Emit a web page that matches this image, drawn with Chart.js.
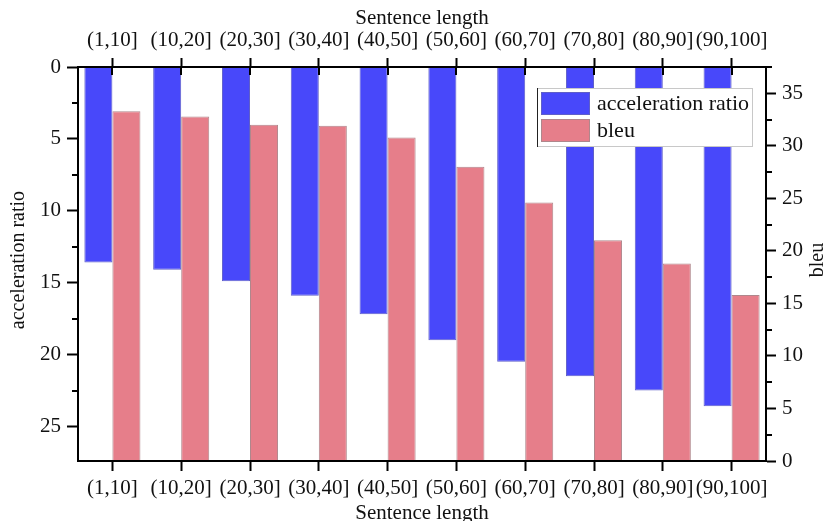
<!DOCTYPE html>
<html lang="en">
<head>
<meta charset="UTF-8">
<title>Acceleration ratio and BLEU by sentence length</title>
<script src="https://cdn.jsdelivr.net/npm/chart.js"></script>
<style>
  html, body { margin: 0; padding: 0; background: #fff; }
  #wrap { width: 831px; height: 521px; position: relative; }
</style>
</head>
<body>
<div id="wrap"><canvas id="chart"></canvas></div>
<script>
// data
const categories = ['(1,10]', '(10,20]', '(20,30]', '(30,40]', '(40,50]', '(50,60]', '(60,70]', '(70,80]', '(80,90]', '(90,100]'];
const accelerationRatio = [13.6, 14.1, 14.9, 15.9, 17.2, 19.0, 20.5, 21.5, 22.5, 23.6];
const bleu = [33.3, 32.8, 32.0, 31.9, 30.8, 28.0, 24.6, 21.0, 18.8, 15.8];
const accTicks = [0, 5, 10, 15, 20, 25];
const bleuTicks = [0, 5, 10, 15, 20, 25, 30, 35];
const accMax = 27.4;
const bleuMax = 37.5;

const SERIF = '"Liberation Serif", "Times New Roman", serif';
const INK = '#111';

function xAxis(position) {
    const top = position === 'top';
    return {
        type: 'category',
        position: position,
        offset: true,
        grid: { offset: false, drawOnChartArea: false, tickLength: top ? 9 : 10, tickWidth: 2, tickColor: '#000' },
        border: { display: true, color: '#000', width: 2, z: 1 },
        ticks: { color: INK, font: { family: SERIF, size: 21 }, padding: 5, autoSkip: false, maxRotation: 0, minRotation: 0 },
        title: {
            display: true,
            text: 'Sentence length',
            color: INK,
            font: { family: SERIF, size: 21, lineHeight: 1 },
            padding: top ? { top: 8, bottom: 0 } : { top: 0, bottom: -3 }
        },
        afterFit: s => { s.height = top ? 67 : 60; }
    };
}

function yAxis(position, max, tickValues, width, tickLength) {
    return {
        position: position,
        reverse: position === 'left',
        min: 0,
        max: max,
        afterBuildTicks: s => { s.ticks = tickValues.map(v => ({ value: v })); },
        grid: { drawOnChartArea: false, tickLength: tickLength, tickWidth: 2, tickColor: '#000' },
        border: { display: true, color: '#000', width: 2, z: 1 },
        ticks: { color: INK, font: { family: SERIF, size: 21 }, padding: 6 },
        afterFit: s => { s.width = width; }
    };
}

// minor ticks, inward top ticks, legend box and the two y titles
const extras = {
    id: 'extras',
    afterDatasetsDraw(chart) {
        const ctx = chart.ctx;
        const a = chart.chartArea;
        ctx.save();
        ctx.strokeStyle = '#000';
        ctx.lineWidth = 2;

        const x2 = chart.scales.x2;
        x2.ticks.forEach((t, i) => {
            const px = Math.round(x2.getPixelForTick(i));
            ctx.beginPath();
            ctx.moveTo(px, a.top);
            ctx.lineTo(px, a.top + 8);
            ctx.stroke();
        });

        const minors = (scale, vals, max, xFrom, xTo) => {
            for (let i = 0; i < vals.length; i++) {
                const step = i + 1 < vals.length ? vals[i + 1] - vals[i] : vals[i] - vals[i - 1];
                const v = vals[i] + step / 2;
                if (v > max) continue;
                const py = Math.round(scale.getPixelForValue(v));
                ctx.beginPath();
                ctx.moveTo(xFrom, py);
                ctx.lineTo(xTo, py);
                ctx.stroke();
            }
        };
        minors(chart.scales.y, accTicks, accMax, a.left - 6, a.left);
        minors(chart.scales.y2, bleuTicks, bleuMax, a.right, a.right + 6);
        ctx.restore();
    },
    afterDraw(chart) {
        const ctx = chart.ctx;
        const a = chart.chartArea;
        ctx.save();

        // legend
        const lw = 215, lh = 58;
        const lx = a.right - 229, ly = a.top + 21;
        ctx.fillStyle = '#fff';
        ctx.fillRect(lx, ly, lw, lh);
        ctx.strokeStyle = '#c8c8c8';
        ctx.lineWidth = 1;
        ctx.strokeRect(lx + 0.5, ly + 0.5, lw, lh);
        ctx.strokeStyle = '#222';
        ctx.beginPath();
        ctx.moveTo(lx + 0.5, ly);
        ctx.lineTo(lx + 0.5, ly + lh + 1);
        ctx.stroke();
        ctx.font = '22px ' + SERIF;
        ctx.textBaseline = 'middle';
        ctx.textAlign = 'left';
        chart.data.datasets.forEach((ds, i) => {
            const sy = ly + 4 + i * 27;
            ctx.fillStyle = ds.backgroundColor;
            ctx.fillRect(lx + 4, sy, 49, 23);
            ctx.strokeStyle = ds.borderColor;
            ctx.strokeRect(lx + 4.5, sy + 0.5, 48, 22);
            ctx.fillStyle = INK;
            ctx.fillText(ds.label, lx + 60, sy + 12);
        });

        // y titles, both reading bottom to top
        const cy = a.top + (a.bottom - a.top) * 0.49;
        ctx.font = '20px ' + SERIF;
        ctx.textAlign = 'center';
        ctx.fillStyle = INK;
        [[18.5, 'acceleration ratio'], [a.right + 52, 'bleu']].forEach(([x, text]) => {
            ctx.save();
            ctx.translate(x, cy);
            ctx.rotate(-Math.PI / 2);
            ctx.fillText(text, 0, 0);
            ctx.restore();
        });
        ctx.restore();
    }
};

new Chart(document.getElementById('chart'), {
    type: 'bar',
    data: {
        labels: categories,
        datasets: [
            {
                label: 'acceleration ratio',
                data: accelerationRatio,
                xAxisID: 'x',
                yAxisID: 'y',
                backgroundColor: 'rgb(72, 72, 250)',
                borderColor: 'rgb(95, 95, 200)',
                borderWidth: 1,
                categoryPercentage: 0.815,
                barPercentage: 1
            },
            {
                label: 'bleu',
                data: bleu,
                xAxisID: 'x',
                yAxisID: 'y2',
                backgroundColor: 'rgb(230, 126, 138)',
                borderColor: 'rgb(175, 135, 140)',
                borderWidth: 1,
                categoryPercentage: 0.815,
                barPercentage: 1
            }
        ]
    },
    plugins: [extras],
    options: {
        responsive: true,
        maintainAspectRatio: false,
        animation: false,
        layout: { padding: 0 },
        plugins: {
            legend: { display: false },
            tooltip: { enabled: true }
        },
        scales: {
            x: xAxis('bottom'),
            x2: xAxis('top'),
            y: yAxis('left', accMax, accTicks, 78, 11),
            y2: yAxis('right', bleuMax, bleuTicks, 65, 10)
        }
    }
});
</script>
</body>
</html>
